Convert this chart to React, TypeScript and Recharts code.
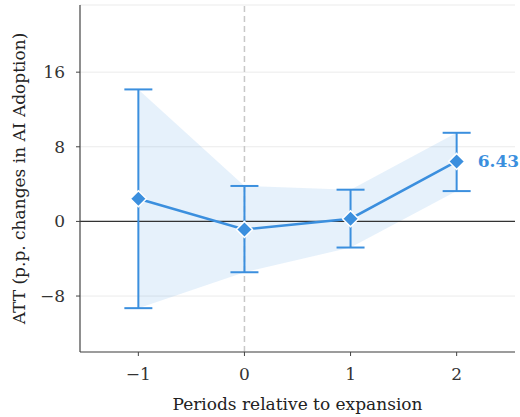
import {
  ComposedChart,
  Area,
  Line,
  ErrorBar,
  XAxis,
  YAxis,
  CartesianGrid,
  ReferenceLine,
  LabelList,
} from 'recharts';

const periods = [-1, 0, 1, 2];
const att = [2.43, -0.86, 0.29, 6.43];
const ciLow = [-9.3, -5.45, -2.8, 3.25];
const ciHigh = [14.15, 3.8, 3.4, 9.5];
const xTicks = [-1, 0, 1, 2];
const yTicks = [-8, 0, 8, 16];

const BLUE = '#3b8fde';
const FONT = 'DejaVu Serif';

const data = periods.map((p, i) => ({
  period: p,
  att: att[i],
  band: [ciLow[i], ciHigh[i]],
  err: [att[i] - ciLow[i], ciHigh[i] - att[i]],
}));

const fmt = (v: number) => (v < 0 ? `\u2212${Math.abs(v)}` : `${v}`);

function Diamond(props: any) {
  const { cx, cy } = props;
  if (cx == null || cy == null) return null;
  const r = 8;
  return (
    <path
      d={`M${cx},${cy - r}L${cx + r},${cy}L${cx},${cy + r}L${cx - r},${cy}Z`}
      fill={BLUE}
      stroke="#fff"
      strokeWidth={1.5}
    />
  );
}

function LastLabel(props: any) {
  const { x, y, value, index } = props;
  if (index !== att.length - 1) return null;
  return (
    <text
      x={x + 21}
      y={y + 6}
      fill={BLUE}
      fontSize={17}
      fontWeight="bold"
      fontFamily={FONT}
    >
      {Number(value).toFixed(2)}
    </text>
  );
}

function XLabel(props: any) {
  const { viewBox } = props;
  return (
    <text
      x={viewBox.x + viewBox.width / 2}
      y={viewBox.y + 58}
      textAnchor="middle"
      fill="#222"
      fontSize={17}
      fontFamily={FONT}
    >
      Periods relative to expansion
    </text>
  );
}

function YLabel(props: any) {
  const { viewBox } = props;
  const cy = viewBox.y + viewBox.height / 2;
  return (
    <text
      x={19}
      y={cy}
      transform={`rotate(-90, 19, ${cy})`}
      textAnchor="middle"
      dominantBaseline="central"
      fill="#222"
      fontSize={17}
      fontFamily={FONT}
    >
      ATT (p.p. changes in AI Adoption)
    </text>
  );
}

export default function App() {
  return (
    <div style={{ position: 'absolute', left: 0, top: 0, background: '#fff' }}>
      <ComposedChart
        width={520}
        height={417}
        data={data}
        margin={{ top: 5, right: 5, bottom: 0, left: 0 }}
      >
        <CartesianGrid vertical={false} stroke="#ebebeb" />
        <Area
          type="linear"
          dataKey="band"
          stroke="none"
          fill={BLUE}
          fillOpacity={0.13}
          isAnimationActive={false}
        />
        <ReferenceLine x={0} stroke="#c8c8c8" strokeWidth={1.5} strokeDasharray="6 4" />
        <ReferenceLine y={0} stroke="#333" strokeWidth={1.2} />
        <XAxis
          dataKey="period"
          type="number"
          domain={[-1.55, 2.55]}
          ticks={xTicks}
          tickFormatter={fmt}
          allowDataOverflow
          height={65}
          axisLine={{ stroke: '#444', strokeWidth: 1.2 }}
          tickLine={{ stroke: '#444' }}
          tickSize={4}
          tickMargin={12}
          tick={{ fill: '#333', fontSize: 17, fontFamily: FONT }}
          label={<XLabel />}
        />
        <YAxis
          type="number"
          domain={[-14, 23.2]}
          ticks={yTicks}
          tickFormatter={fmt}
          allowDataOverflow
          width={80}
          axisLine={{ stroke: '#444', strokeWidth: 1.2 }}
          tickLine={{ stroke: '#444' }}
          tickSize={4}
          tickMargin={11}
          tick={{ fill: '#333', fontSize: 17, fontFamily: FONT }}
          label={<YLabel />}
        />
        <Line
          type="linear"
          dataKey="att"
          stroke={BLUE}
          strokeWidth={2.5}
          dot={<Diamond />}
          activeDot={false}
          isAnimationActive={false}
        >
          <ErrorBar dataKey="err" direction="y" width={14} stroke={BLUE} strokeWidth={2} />
          <LabelList dataKey="att" content={<LastLabel />} />
        </Line>
      </ComposedChart>
    </div>
  );
}
